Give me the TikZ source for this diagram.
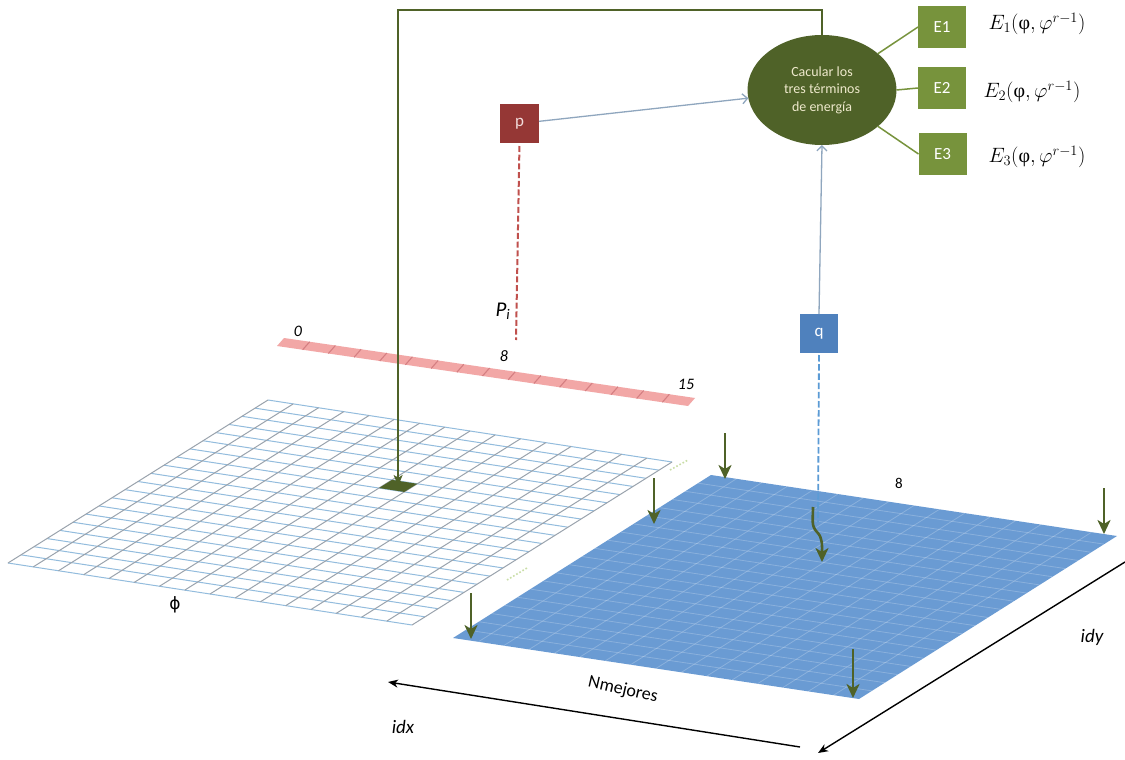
\documentclass[tikz,border=0pt]{standalone}
\usepackage{fontspec}
\newfontfamily\carl{Carlito}
\newfontfamily\grk{Liberation Serif}
\newfontfamily\djs{DejaVu Sans}
\usetikzlibrary{arrows.meta,shapes.geometric,calc}

\definecolor{olivedark}{HTML}{4F6228}
\definecolor{olivemid}{HTML}{77933C}
\definecolor{pboxred}{HTML}{953735}
\definecolor{pboxtext}{HTML}{F2DCDB}
\definecolor{qboxblue}{HTML}{4F81BD}
\definecolor{reddash}{HTML}{C0504D}
\definecolor{bluedash}{HTML}{5B9BD5}
\definecolor{planeblue}{HTML}{6A9BD3}
\definecolor{barpink}{HTML}{F2A7A6}
\definecolor{bardiv}{HTML}{D57F82}
\definecolor{linkgrey}{HTML}{8FA6BE}
\definecolor{gridrow}{HTML}{93BCDD}
\definecolor{gridcol}{HTML}{9AA3AD}
\definecolor{ellipsetext}{HTML}{EEE9CC}
\definecolor{dotgreen}{HTML}{C9DEA6}

\begin{document}
\begin{tikzpicture}[x=1pt,y=-1pt,
  every node/.style={inner sep=0pt, outer sep=0pt},
  ebox/.style={fill=olivemid, minimum width=48pt, minimum height=42pt,
    text=white, font=\carl\fontsize{17}{20}\selectfont},
  elabel/.style={font=\fontsize{20}{24}\selectfont},
  elink/.style={draw=olivemid, line width=1.5pt},
  link/.style={draw=linkgrey, line width=1.3pt, -{Straight Barb[length=5pt,width=10pt]}},
  feed/.style={draw=olivedark, line width=1.5pt, -{Stealth[length=11pt,width=9pt,inset=3pt]}},
  drop/.style={draw=olivedark, line width=2.6pt, -{Stealth[length=14pt,width=13pt,inset=4pt]}},
  axisarrow/.style={draw=black, line width=1.4pt, -{Stealth[length=10pt,width=8pt,inset=3pt]}},
  rowline/.style={draw=gridrow, line width=1pt},
  colline/.style={draw=gridcol, line width=1pt},
  planeline/.style={draw=white, opacity=0.22, line width=0.8pt},
  small/.style={font=\carl\itshape\fontsize{16}{19}\selectfont},
  axislabel/.style={font=\carl\itshape\fontsize{19}{22}\selectfont}
]
\useasboundingbox (0,0) rectangle (1125,760);
\fill[white] (0,0) rectangle (1125,760);

% input lattice phi (white grid)
\begin{scope}[shift={(268,400)}, x={(25.25pt,-3.875pt)}, y={(-13pt,-8.15pt)}]
  \foreach \j in {0,...,20} \draw[rowline] (0,\j) -- (16,\j);
  \foreach \i in {0,...,16} \draw[colline] (\i,0) -- (\i,20);
  \fill[olivedark] (8,6) -- (9,6) -- (9,7) -- (8,7) -- cycle;
  \coordinate (cellc) at (8.5,6.5);
\end{scope}
\draw[dotgreen, line width=1.6pt, dotted] (670,470) -- (688,460);
\draw[dotgreen, line width=1.6pt, dotted] (507,580) -- (527,568);

% pink strip of 16 cells
\begin{scope}[shift={(284,338)}, x={(25.69pt,-3.75pt)}, y={(-7pt,-8pt)}]
  \fill[barpink] (0,0) -- (16,0) -- (16,1) -- (0,1) -- cycle;
  \foreach \i in {1,...,15} \draw[bardiv, line width=1.1pt] (\i,0) -- (\i,1);
\end{scope}
\node[small] (b0) at (298,331) {0};
\node[small] (b8) at (504,356) {8};
\node[small] (b15) at (686,384) {15};

% blue plane
\begin{scope}[shift={(711,475)}, x={(25.375pt,-3.8125pt)}, y={(-12.9pt,-8.15pt)}]
  \fill[planeblue] (0,0) -- (16,0) -- (16,20) -- (0,20) -- cycle;
  \foreach \j in {1,...,19} \draw[planeline] (0,\j) -- (16,\j);
  \foreach \i in {1,...,15} \draw[planeline] (\i,0) -- (\i,20);
\end{scope}
\node[font=\carl\fontsize{15}{18}\selectfont] (eightb) at (899,483) {8};

% energy ellipse and the three terms
\node[ellipse, fill=olivedark, minimum width=149pt, minimum height=110pt,
  text=ellipsetext, align=center, font=\carl\fontsize{14}{17.5}\selectfont]
  (ell) at (822,90) {Cacular los\\tres términos\\de energía};
\node[ebox] (e1) at (942,27) {E1};
\node[ebox] (e2) at (942,88) {E2};
\node[ebox] (e3) at (942.5,154) {E3};
\draw[elink] (ell.33) -- (e1.west);
\draw[elink] (ell.east) -- (e2.west);
\draw[elink] (ell.-33) -- (e3.west);
\node[elabel] (l1) at (1037,24) {$E_1(\mbox{\grk φ},\varphi^{r-1})$};
\node[elabel] (l2) at (1032,92) {$E_2(\mbox{\grk φ},\varphi^{r-1})$};
\node[elabel] (l3) at (1037,157) {$E_3(\mbox{\grk φ},\varphi^{r-1})$};

% p and q
\node[fill=pboxred, minimum width=39pt, minimum height=39pt, text=pboxtext,
  font=\carl\fontsize{17}{20}\selectfont] (p) at (519.5,123.5) {p};
\node[fill=qboxblue, minimum width=38pt, minimum height=39pt, text=white,
  font=\carl\fontsize{17}{20}\selectfont] (q) at (819,333.5) {q};
\draw[link] (p) -- (ell);
\draw[link] (q.north) -- (ell.south);
\coordinate (pfoot) at (516,340);
\coordinate (qfoot) at (818,522);
\draw[reddash, line width=2pt, dash pattern=on 6pt off 2.7pt, shorten <=3pt] (p.south) -- (pfoot);
\draw[bluedash, line width=1.8pt, dash pattern=on 6.5pt off 2.7pt, shorten <=2pt] (q.south) -- (qfoot);
\node[font=\carl\itshape\fontsize{21}{24}\selectfont] (pil) at (503,311) {P\textsubscript{i}};

% feedback from the ellipse to the lattice cell
\coordinate (fbturn) at (822,10);
\draw[feed] (ell.north) -- (fbturn) -| (cellc);

% arrows dropping onto the blue plane
\coordinate (d1s) at (725,433);  \coordinate (d1e) at (725,479);
\coordinate (d2s) at (654,478);  \coordinate (d2e) at (654,524);
\coordinate (d3s) at (471,593);  \coordinate (d3e) at (471,639);
\coordinate (d4s) at (1104,488); \coordinate (d4e) at (1104,534);
\coordinate (d5s) at (853,649);  \coordinate (d5e) at (853,698);
\draw[drop] (d1s) -- (d1e);
\draw[drop] (d2s) -- (d2e);
\draw[drop] (d3s) -- (d3e);
\draw[drop] (d4s) -- (d4e);
\draw[drop] (d5s) -- (d5e);
\coordinate (ws) at (813,507);
\coordinate (wm) at (817,532);
\coordinate (we) at (822,562);
\draw[drop] (ws) .. controls (813,520) and (811,526) .. (wm) .. controls (823,538) and (822,546) .. (we);

% axes
\coordinate (idxs) at (800,747); \coordinate (idxe) at (388,682);
\coordinate (idys) at (1125,562); \coordinate (idye) at (818,753);
\draw[axisarrow] (idxs) -- (idxe);
\draw[axisarrow] (idys) -- (idye);
\node[axislabel] (idxl) at (403,727) {idx};
\node[axislabel] (idyl) at (1092,637) {idy};
\node[font=\carl\fontsize{18}{21}\selectfont, rotate=-13] (nml) at (623,690) {Nmejores};
\node[font=\djs\fontsize{17}{20}\selectfont] (phil) at (175,605) {ϕ};
\end{tikzpicture}
\end{document}
